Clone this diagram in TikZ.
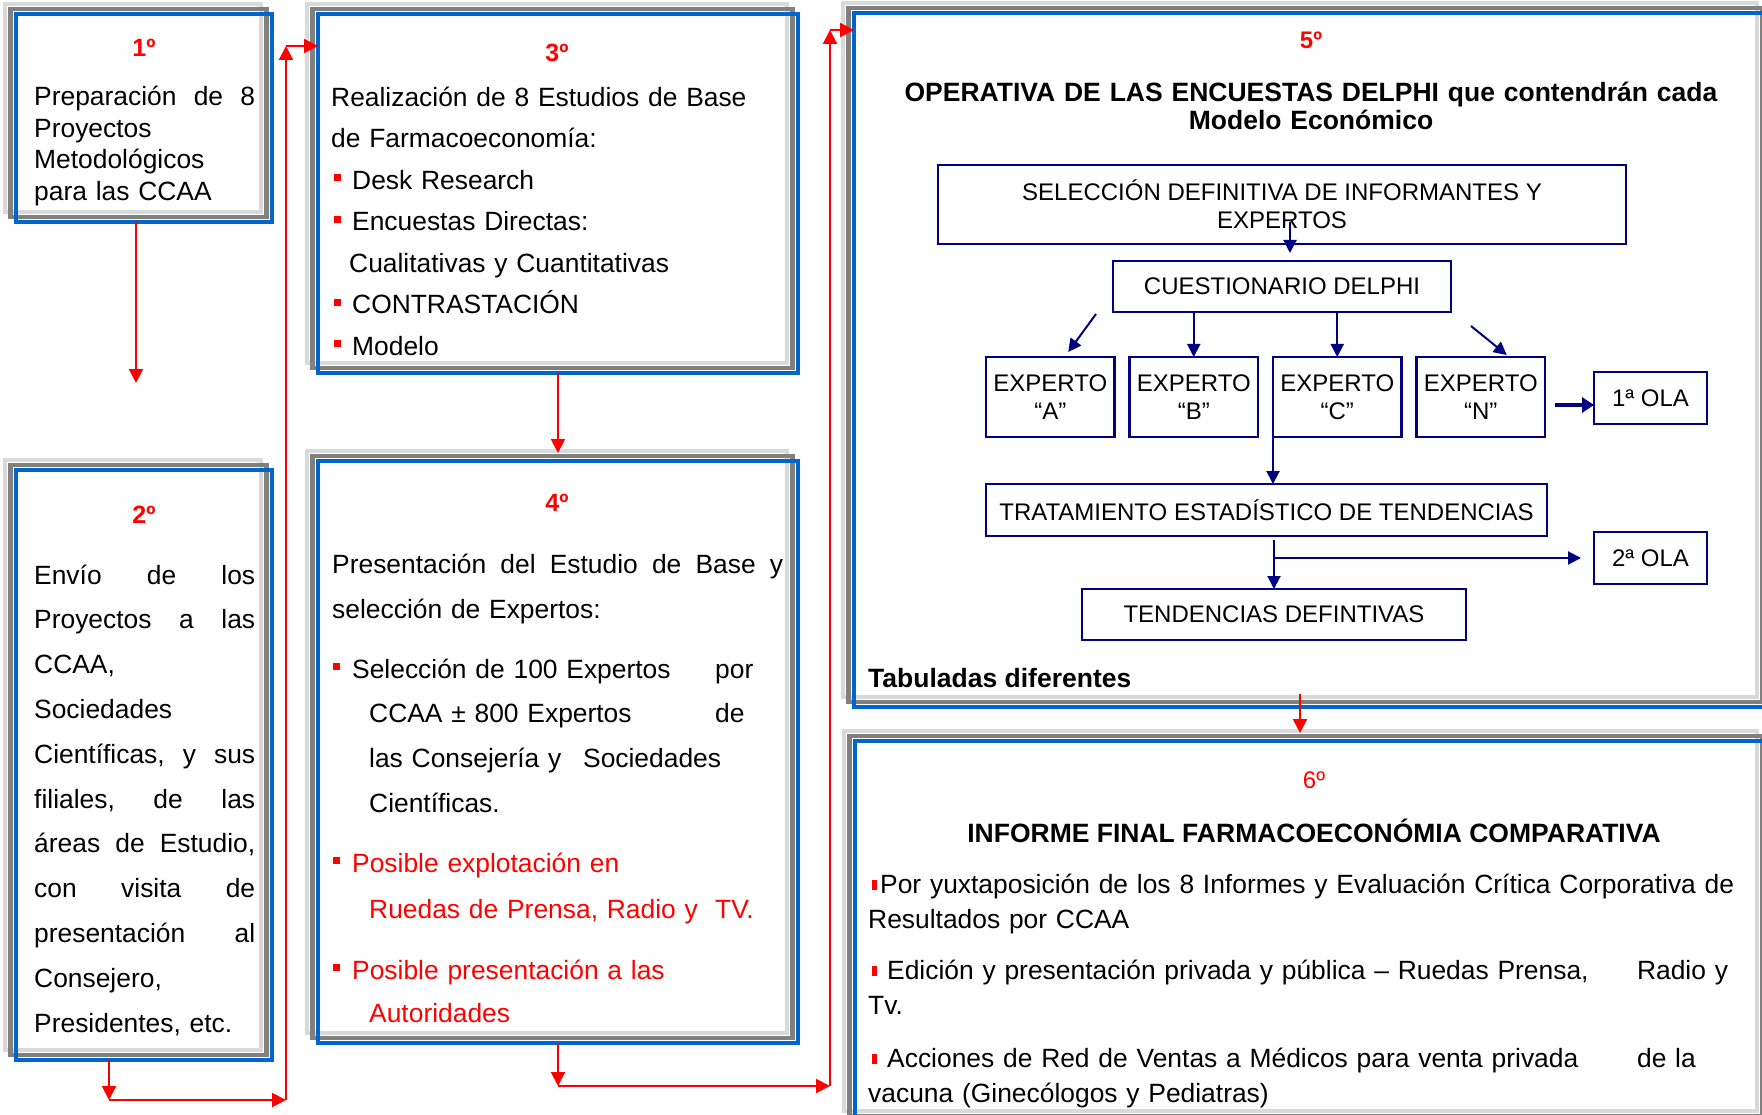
\documentclass[tikz,border=0pt]{standalone}
\usepackage{fontspec}
\setmainfont{Liberation Sans}
\usetikzlibrary{arrows.meta,positioning,shadows}

\definecolor{azulmarco}{RGB}{0,102,204}
\definecolor{grisoscuro}{RGB}{128,128,128}
\definecolor{grisclaro}{RGB}{217,217,217}
\definecolor{rojo}{RGB}{255,0,0}
\definecolor{marino}{RGB}{0,0,128}

\newcommand{\cuadro}{\textcolor{rojo}{\rule[8pt]{7pt}{7pt}}}
\newcommand{\barra}{\textcolor{rojo}{\rule[3pt]{5pt}{10pt}}}

\begin{document}
\begin{tikzpicture}[x=1pt, y=-1pt,
    paso/.style = {draw=azulmarco, line width=4.5pt, rectangle, inner sep=0pt, outer sep=0pt, anchor=north west,
      general shadow={shadow xshift=-11pt, shadow yshift=10pt, draw=grisclaro, line width=4pt},
      general shadow={shadow xshift=-5.5pt, shadow yshift=5pt, draw=grisoscuro, line width=4.5pt}},
    numero/.style = {text=rojo, font=\bfseries\fontsize{25}{30}\selectfont, inner sep=0pt, anchor=base},
    cuerpo/.style = {font=\fontsize{26.4}{#1}\selectfont, inner sep=0pt, anchor=base west, align=left},
    titulo/.style = {font=\bfseries\fontsize{26.5}{28}\selectfont, inner sep=0pt},
    caja/.style = {draw=marino, line width=2.5pt, inner sep=0pt, outer sep=0pt, align=center,
      font=\fontsize{24}{28}\selectfont},
    flecha/.style = {draw=rojo, line width=2pt, -{Triangle[length=14pt,width=14pt]}},
    flechaazul/.style = {draw=marino, line width=2pt, -{Triangle[length=13pt,width=13pt]}},
    flechagruesa/.style = {draw=marino, line width=3.5pt, -{Triangle[length=12pt,width=15pt]}}]

  \fill[white] (0,0) rectangle (1762,1115);
  \useasboundingbox (0,0) rectangle (1762,1115);
  \clip (0,0) rectangle (1762,1115);

  % marcos de los pasos
  \node[paso, minimum width=256pt, minimum height=208pt] (paso1) at (16,14) {};
  \node[paso, minimum width=256pt, minimum height=590pt] (paso2) at (16,470) {};
  \node[paso, minimum width=480pt, minimum height=359pt] (paso3) at (318,14) {};
  \node[paso, minimum width=480pt, minimum height=582pt] (paso4) at (318,461) {};
  \node[paso, minimum width=914pt, minimum height=694pt] (paso5) at (854,13) {};
  \node[paso, minimum width=913pt, minimum height=380pt] (paso6) at (855,741) {};

  % paso 1
  \node[numero] (n1) at (144,57) {1º};
  \node[cuerpo=31.5, text width=221pt] (t1) at (34,106)
    {Preparación\hfill de\hfill 8\\ Proyectos\\ Metodológicos\\ para las CCAA};

  % paso 2
  \node[numero] (n2) at (144,523) {2º};
  \node[cuerpo=44.8, text width=221pt] (t2) at (34,584)
    {Envío\hfill de\hfill los\\ Proyectos\hfill a\hfill las\\ CCAA,\\ Sociedades\\
     Científicas,\hfill y\hfill sus\\ filiales,\hfill de\hfill las\\ áreas\hfill de\hfill Estudio,\\
     con\hfill visita\hfill de\\ presentación\hfill al\\ Consejero,\\ Presidentes, etc.};

  % paso 3
  \node[numero] (n3) at (557,62) {3º};
  \node[cuerpo=41.5, text width=450pt] (t3) at (331,106.5)
    {Realización de 8 Estudios de Base\\ de Farmacoeconomía:\\
     \hspace*{3pt}\cuadro\hspace{11pt}Desk Research\\
     \hspace*{3pt}\cuadro\hspace{11pt}Encuestas Directas:\\
     \hspace*{18pt}Cualitativas y Cuantitativas\\
     \hspace*{3pt}\cuadro\hspace{11pt}CONTRASTACIÓN\\
     \hspace*{3pt}\cuadro\hspace{11pt}Modelo};

  % paso 4
  \node[numero] (n4) at (557,511) {4º};
  \node[cuerpo=45, text width=451pt] (t4a) at (332,573)
    {Presentación\hfill del\hfill Estudio\hfill de\hfill Base\hfill y\\ selección de Expertos:};
  \node[cuerpo=44.7, text width=440pt] (t4b) at (333,678)
    {\cuadro\hspace{12pt}\makebox[363pt][l]{Selección de 100 Expertos}por\\
     \hspace*{36pt}\makebox[346pt][l]{CCAA ± 800 Expertos}de\\
     \hspace*{36pt}\makebox[214pt][l]{las Consejería y}Sociedades\\
     \hspace*{36pt}Científicas.};
  \node[cuerpo=46, text width=440pt, text=rojo] (t4c) at (333,872)
    {\cuadro\hspace{12pt}Posible explotación en\\
     \hspace*{36pt}\makebox[346pt][l]{Ruedas de Prensa, Radio y}TV.};
  \node[cuerpo=43, text width=440pt, text=rojo] (t4d) at (333,979)
    {\cuadro\hspace{12pt}Posible presentación a las\\ \hspace*{36pt}Autoridades};

  % paso 5
  \node[numero, font=\bfseries\fontsize{24}{28}\selectfont] (n5) at (1311,49) {5º};
  \node[titulo, text width=880pt, align=center, anchor=base] (t5) at (1311,102)
    {OPERATIVA DE LAS ENCUESTAS DELPHI que contendrán cada\\ Modelo Económico};
  \node[caja, minimum width=688pt, minimum height=79pt] (sel) at (1282,204.5)
    {SELECCIÓN DEFINITIVA DE INFORMANTES Y\\ EXPERTOS};
  \node[caja, minimum width=338pt, minimum height=51pt] (cues) at (1282,286.5) {CUESTIONARIO DELPHI};
  \node[caja, minimum width=128.5pt, minimum height=80pt] (expA) at (1050.25,397) {EXPERTO\\“A”};
  \node[caja, minimum width=128.5pt, minimum height=80pt, right=15pt of expA] (expB) {EXPERTO\\“B”};
  \node[caja, minimum width=128.5pt, minimum height=80pt, right=15pt of expB] (expC) {EXPERTO\\“C”};
  \node[caja, minimum width=128.5pt, minimum height=80pt, right=15pt of expC] (expN) {EXPERTO\\“N”};
  \node[caja, minimum width=113pt, minimum height=52pt] (ola1) at (1650.5,398) {1ª OLA};
  \node[caja, minimum width=561pt, minimum height=52pt] (trat) at (1266.5,510)
    {TRATAMIENTO ESTADÍSTICO DE TENDENCIAS};
  \node[caja, minimum width=113pt, minimum height=52pt] (ola2) at (1650.5,558) {2ª OLA};
  \node[caja, minimum width=384pt, minimum height=51pt] (tend) at (1274,614.5) {TENDENCIAS DEFINTIVAS};
  \node[titulo, anchor=base west] (tab) at (868,687) {Tabuladas diferentes};

  \coordinate (dA) at (1096,314);
  \coordinate (dN) at (1471,326);
  \coordinate (o1) at (1555,405);
  \draw[flechaazul, shorten >=8pt] ([xshift=8pt,yshift=22pt]sel.south) -- ([xshift=8pt]cues.north);
  \draw[flechaazul] (dA) -- ([xshift=18pt,yshift=5pt]expA.north);
  \draw[flechaazul] (cues.south -| expB.north) -- (expB.north);
  \draw[flechaazul] (cues.south -| expC.north) -- (expC.north);
  \draw[flechaazul] (dN) -- ([xshift=26pt,yshift=2pt]expN.north);
  \draw[flechagruesa] (o1) -- (o1 -| ola1.west);
  \draw[flechaazul] (expC.south west) -- (expC.south west |- trat.north);
  \draw[flechaazul, shorten <=4pt] (trat.south -| tend.north) -- (tend.north);
  \draw[flechaazul, shorten >=13pt] (tend.north |- ola2.west) -- (ola2.west);

  % paso 6
  \node[numero, font=\fontsize{24}{28}\selectfont] (n6) at (1314,788) {6º};
  \node[titulo, anchor=base] (t6) at (1314,842) {INFORME FINAL FARMACOECONÓMIA COMPARATIVA};
  \node[cuerpo=35, text width=880pt] (t6a) at (868,893)
    {\hspace*{4pt}\barra\hspace{3pt}Por yuxtaposición de los 8 Informes y Evaluación Crítica Corporativa de\\
     Resultados por CCAA};
  \node[cuerpo=35, text width=880pt] (t6b) at (868,979)
    {\hspace*{4pt}\barra\hspace{10pt}\makebox[750pt][l]{Edición y presentación privada y pública – Ruedas Prensa,}Radio y\\ Tv.};
  \node[cuerpo=35, text width=880pt] (t6c) at (868,1067)
    {\hspace*{4pt}\barra\hspace{10pt}\makebox[750pt][l]{Acciones de Red de Ventas a Médicos para venta privada}de la\\
     vacuna (Ginecólogos y Pediatras)};

  % flechas rojas entre pasos
  \coordinate (c1) at (136,383);
  \coordinate (c2) at (109,1100);
  \coordinate (c3) at (286,1100);
  \coordinate (c4) at (286,46);
  \coordinate (c5) at (558,1086);
  \coordinate (c6) at (830,1086);
  \coordinate (c7) at (830,30);
  \coordinate (c8) at (1300,694);
  \draw[flecha] (paso1.south -| c1) -- (c1);
  \draw[flecha] (paso2.south -| c2) -- (c2);
  \draw[flecha] (c2) -- (c3);
  \draw[flecha] (c3) -- (c4);
  \draw[flecha] (c4) -- (c4 -| paso3.west);
  \draw[flecha, shorten >=8pt] (paso3.south) -- (paso4.north);
  \draw[flecha] (paso4.south -| c5) -- (c5);
  \draw[flecha] (c5) -- (c6);
  \draw[flecha] (c6) -- (c7);
  \draw[flecha] (c7) -- (c7 -| paso5.west);
  \draw[flecha, shorten >=8pt] (c8) -- (c8 |- paso6.north);
\end{tikzpicture}
\end{document}
